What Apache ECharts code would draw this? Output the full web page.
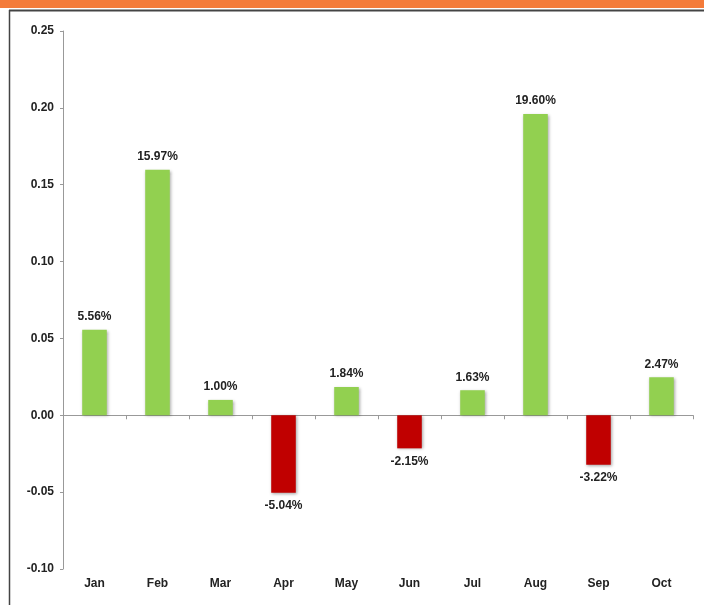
<!DOCTYPE html>
<html>
<head>
<meta charset="utf-8">
<script src="https://cdn.jsdelivr.net/npm/echarts@6/dist/echarts.min.js"></script>
<style>
  html, body { margin: 0; padding: 0; background: #fff; }
  #main { width: 704px; height: 605px; }
</style>
</head>
<body>
<div id="main"></div>
<script>
const months = ['Jan', 'Feb', 'Mar', 'Apr', 'May', 'Jun', 'Jul', 'Aug', 'Sep', 'Oct'];
const returns = [0.0556, 0.1597, 0.0100, -0.0504, 0.0184, -0.0215, 0.0163, 0.1960, -0.0322, 0.0247];

const GREEN = '#92d050';
const RED = '#c00000';
const FONT = 'Liberation Sans, Arial, sans-serif';

const myChart = echarts.init(document.getElementById('main'));

myChart.setOption({
  animation: false,
  textStyle: { fontFamily: FONT },
  graphic: [
    // orange strip + frame lines
    { type: 'rect', left: 0, top: 0, shape: { width: 704, height: 8 }, style: { fill: '#f47b3a' } },
    { type: 'line', shape: { x1: 9, y1: 10.5, x2: 704, y2: 10.5 }, style: { stroke: '#444', lineWidth: 2 } },
    { type: 'line', shape: { x1: 9.5, y1: 10, x2: 9.5, y2: 605 }, style: { stroke: '#444', lineWidth: 1.5 } }
  ],
  grid: {
    top: 31,
    left: 63,
    right: 11,
    bottom: 36
  },
  xAxis: [
    {
      type: 'category',
      data: months,
      axisLine: { show: false, onZero: false },
      axisTick: { show: false },
      axisLabel: { color: '#222', fontSize: 12, fontWeight: 'bold', margin: 9 }
    },
    {
      type: 'category',
      data: months,
      position: 'bottom',
      axisLine: { show: true, onZero: true, lineStyle: { color: '#999', width: 1 } },
      axisTick: { show: true, length: 4, lineStyle: { color: '#999' } },
      axisLabel: { show: false }
    }
  ],
  yAxis: {
    type: 'value',
    min: -0.10,
    max: 0.25,
    interval: 0.05,
    axisLine: { show: true, lineStyle: { color: '#999' } },
    axisTick: { show: true, length: 3, lineStyle: { color: '#999' } },
    splitLine: { show: false },
    axisLabel: {
      color: '#222',
      fontSize: 12,
      fontWeight: 'bold',
      margin: 9,
      formatter(v) {
        return v.toFixed(2);
      }
    }
  },
  series: [
    {
      type: 'bar',
      xAxisIndex: 1,
      barWidth: '39%',
      data: returns.map(v => ({
        value: v,
        itemStyle: { color: v >= 0 ? GREEN : RED },
        label: { position: v >= 0 ? 'top' : 'bottom' }
      })),
      itemStyle: {
        shadowColor: 'rgba(0, 0, 0, 0.35)',
        shadowBlur: 3,
        shadowOffsetX: 1,
        shadowOffsetY: 1
      },
      label: {
        show: true,
        distance: 7,
        color: '#222',
        fontSize: 12,
        fontWeight: 'bold',
        formatter(p) {
          return `${(p.value * 100).toFixed(2)}%`;
        }
      }
    }
  ]
});
</script>
</body>
</html>
